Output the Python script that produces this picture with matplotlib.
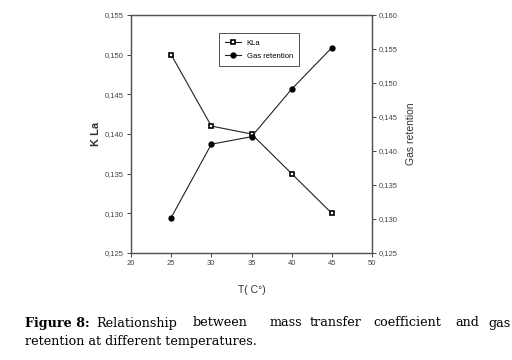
import numpy as np
import matplotlib
matplotlib.use("Agg")
from matplotlib import pyplot as plt
from matplotlib.ticker import FuncFormatter

# data
temps = [25, 30, 35, 40, 45]
kla = [0.150, 0.141, 0.140, 0.135, 0.130]
gas = [0.1302, 0.1410, 0.1421, 0.1491, 0.1552]

caption_line1 = ["Relationship", "between", "mass", "transfer", "coefficient", "and", "gas"]
caption_x1 = [96, 193, 270, 310, 373, 455, 488]

plt.rcParams['font.family'] = ['Liberation Sans', 'DejaVu Sans']

fig = plt.figure(figsize=(5.12, 3.6), dpi=100)
ax = fig.add_axes([131/512, 1-253/360, 241/512, 238/360])
ax2 = ax.twinx()

comma = FuncFormatter(lambda v, p: ("%.3f" % v).replace(".", ","))
tick_col = "#444444"

l1, = ax.plot(temps, kla, color="#222222", lw=0.8, marker="s", ms=3.5,
              mfc="white", mec="black", mew=1.2, label="KLa")
l2, = ax2.plot(temps, gas, color="#222222", lw=0.8, marker="o", ms=3.5,
               mfc="black", mec="black", label="Gas retention")

ax.set_xlim(20, 50)
ax.set_xticks(np.arange(20, 51, 5))
ax.set_ylim(0.125, 0.155)
ax.set_yticks(np.arange(0.125, 0.1551, 0.005))
ax.yaxis.set_major_formatter(comma)
ax2.set_ylim(0.125, 0.160)
ax2.set_yticks(np.arange(0.125, 0.1601, 0.005))
ax2.yaxis.set_major_formatter(comma)

for a in (ax, ax2):
    a.tick_params(labelsize=5.5, colors=tick_col, length=3, width=0.7, pad=2)
    for s in a.spines.values():
        s.set_color("#555555")
        s.set_linewidth(0.9)

ax.set_ylabel("K La", fontsize=8, fontweight="bold", labelpad=3, color="#333333")
ax2.set_ylabel("Gas retention", fontsize=7.5, labelpad=6, color="#333333", rotation=90)
ax.set_xlabel("T( C°)", fontsize=7.5, labelpad=13, color="#333333")

leg = ax.legend([l1, l2], ["KLa", "Gas retention"], loc="upper left",
                bbox_to_anchor=(0.35, 0.94), fontsize=5.5, frameon=True,
                fancybox=False, handlelength=2.0, borderpad=0.8, labelspacing=0.8)
leg.get_frame().set_edgecolor("#222222")
leg.get_frame().set_linewidth(0.7)

# caption, words placed to mimic the justified text
serif = ["DejaVu Serif"]
fs = 9.2
fig.text(25/512, 1-323/360, "Figure 8:", fontsize=fs, fontweight="bold",
         family=serif, va="center", ha="left")
for w, x in zip(caption_line1, caption_x1):
    fig.text(x/512, 1-323/360, w, fontsize=fs, family=serif, va="center", ha="left")
fig.text(25/512, 1-341/360, "retention at different temperatures.", fontsize=fs,
         family=serif, va="center", ha="left")

fig.savefig("out.png", dpi=100)
